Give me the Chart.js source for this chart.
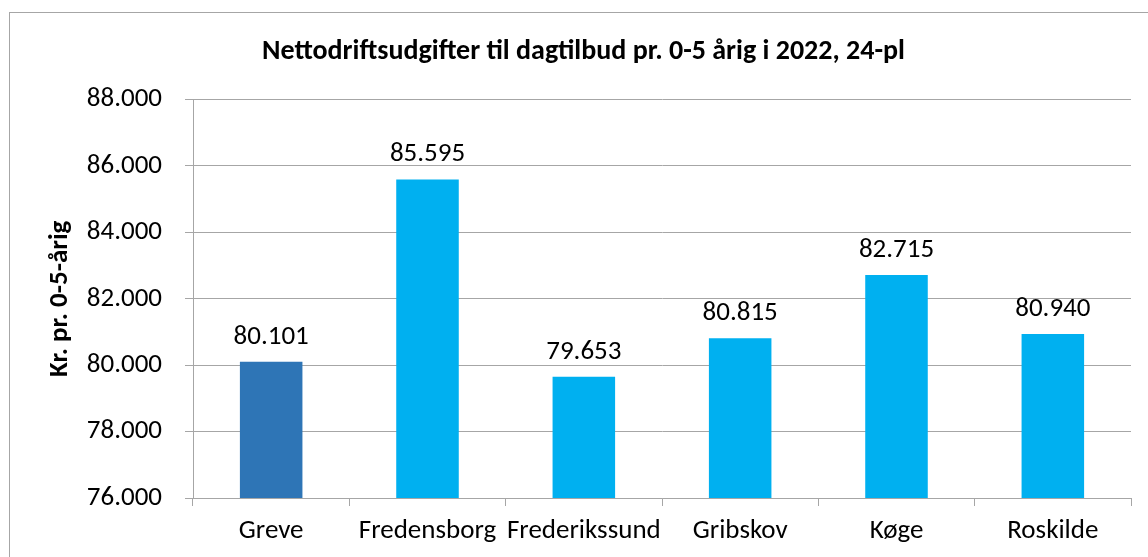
<!DOCTYPE html>
<html>
<head>
<meta charset="utf-8">
<script src="https://cdn.jsdelivr.net/npm/chart.js@4"></script>
<style>
  html, body { margin: 0; padding: 0; background: #fff; overflow: hidden; }
  #frame { position: absolute; left: 9px; top: 12px; width: 1200px; height: 600px; border: 1px solid #a6a6a6; box-sizing: border-box; }
  #wrap { position: absolute; left: 0; top: 0; width: 1148px; height: 557px; }
</style>
</head>
<body>
<div id="frame"></div>
<div id="wrap"><canvas id="c" width="1148" height="557"></canvas></div>
<script>
const categories = ["Greve", "Fredensborg", "Frederikssund", "Gribskov", "Køge", "Roskilde"];
const values = [80101, 85595, 79653, 80815, 82715, 80940];
const barColors = ["#2E75B6", "#00B0F0", "#00B0F0", "#00B0F0", "#00B0F0", "#00B0F0"];
const yTicks = [76000, 78000, 80000, 82000, 84000, 86000, 88000];
const chartTitle = "Nettodriftsudgifter til dagtilbud pr. 0-5 årig i 2022, 24-pl";
const yTitle = "Kr. pr. 0-5-årig";

const FONT = "Carlito, Calibri, Lato, sans-serif";
function fmt(v) {
  return String(Math.round(v)).replace(/\B(?=(\d{3})+(?!\d))/g, ".");
}

const labelPlugin = {
  id: 'valueLabels',
  afterDatasetsDraw(chart) {
    const ctx = chart.ctx;
    const meta = chart.getDatasetMeta(0);
    ctx.save();
    ctx.font = "27px " + FONT;
    ctx.fillStyle = "#000";
    ctx.textAlign = "center";
    ctx.textBaseline = "alphabetic";
    meta.data.forEach((bar, i) => {
      ctx.fillText(fmt(values[i]), bar.x, bar.y - 18);
    });
    ctx.restore();
  }
};

new Chart(document.getElementById('c'), {
  type: 'bar',
  data: {
    labels: categories,
    datasets: [{
      data: values,
      backgroundColor: barColors,
      borderWidth: 0,
      barPercentage: 0.4,
      categoryPercentage: 1.0
    }]
  },
  options: {
    responsive: false,
    animation: false,
    events: [],
    layout: { padding: { left: 36, right: 17, top: 0, bottom: 0 } },
    plugins: {
      legend: { display: false },
      tooltip: { enabled: false },
      title: {
        display: true,
        text: chartTitle,
        color: "#000",
        font: { family: FONT, size: 28, weight: 'bold' },
        padding: { top: 35, bottom: 31 }
      }
    },
    scales: {
      x: {
        offset: true,
        grid: {
          display: true,
          offset: true,
          drawOnChartArea: false,
          drawTicks: true,
          tickLength: 8,
          color: "#a6a6a6"
        },
        border: { display: true, color: "#a6a6a6", width: 1 },
        ticks: {
          color: "#000",
          font: { family: FONT, size: 27 },
          padding: 9,
          maxRotation: 0,
          autoSkip: false
        },
        afterFit(scale) { scale.height = 59; }
      },
      y: {
        min: 76000,
        max: 88000,
        afterBuildTicks(scale) { scale.ticks = yTicks.map(v => ({ value: v })); },
        grid: {
          color: "#a6a6a6",
          tickLength: 8,
          drawTicks: true
        },
        border: { display: true, color: "#a6a6a6", width: 1 },
        ticks: {
          color: "#000",
          font: { family: FONT, size: 27 },
          padding: 23,
          callback: (v) => fmt(v)
        },
        title: {
          display: true,
          text: yTitle,
          color: "#000",
          font: { family: FONT, size: 27, weight: 'bold' },
          padding: { top: 8, bottom: 0 }
        },
        afterFit(scale) { scale.width = 157; }
      }
    }
  },
  plugins: [labelPlugin]
});
</script>
</body>
</html>
